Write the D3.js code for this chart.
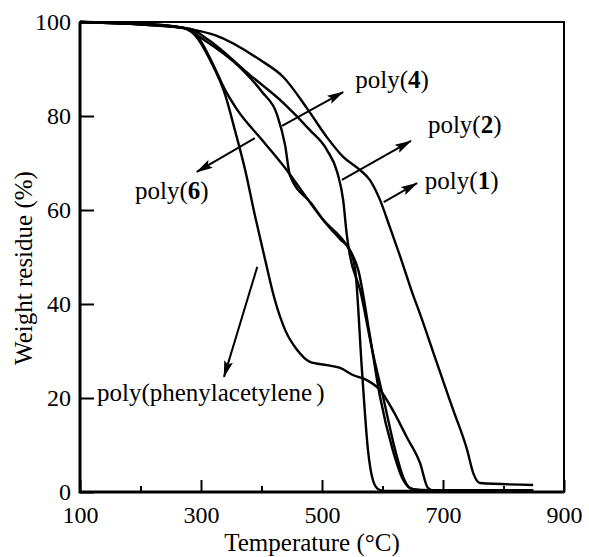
<!DOCTYPE html>
<html>
<head>
<meta charset="utf-8">
<script src="https://cdn.jsdelivr.net/npm/d3@7"></script>
<style>
  body { margin: 0; background: #fff; }
  svg { display: block; font-family: "Liberation Serif", "Times New Roman", serif; }
  .curve { fill: none; stroke: #000; stroke-width: 2.4px; stroke-linejoin: round; }
  .axis text { font-size: 24px; fill: #000; font-family: "Liberation Serif", serif; }
  .axis line { stroke: #000; stroke-width: 2px; }
  .axis .domain { display: none; }
  .note { font-size: 25px; fill: #000; }
</style>
</head>
<body>
<svg id="chart" width="589" height="557"></svg>
<script>
// TGA curves, temperature (°C) vs weight residue (%)
const poly1T = [100, 183, 282, 323, 398, 436, 477, 508, 535, 563, 579, 596, 612, 629, 650, 662, 690, 717, 740, 750, 761, 849];
const poly1W = [100, 99.8, 98.5, 97.2, 91.9, 88.3, 81.3, 75.5, 71.3, 68.5, 66.4, 62.1, 56.4, 50.2, 42.1, 37.9, 27.4, 17.4, 8.9, 4.0, 1.9, 1.5];

const poly2T = [100, 183, 282, 312, 381, 436, 480, 508, 525, 535, 541, 546, 563, 583, 601, 621, 636, 649, 679, 849];
const poly2W = [100, 99.6, 98.5, 96.2, 88.7, 82.8, 77.0, 72.8, 68.1, 62.1, 54.7, 50.4, 43.0, 30.2, 20.2, 8.9, 2.6, 0.6, 0.4, 0.4];

const poly4T = [100, 183, 274, 298, 364, 401, 426, 439, 447, 483, 505, 530, 546, 555, 566, 576, 584, 593, 604, 849];
const poly4W = [100, 99.6, 98.7, 96.8, 90.4, 85.1, 80.2, 73.8, 67.4, 61.3, 57.4, 53.8, 51.5, 47.2, 26.0, 8.9, 2.6, 0.6, 0.2, 0.2];

const poly6T = [100, 183, 274, 295, 318, 340, 360, 401, 444, 483, 502, 530, 543, 560, 579, 596, 617, 634, 645, 662, 849];
const poly6W = [100, 99.6, 98.7, 96.8, 91.5, 85.5, 81.3, 74.9, 68.1, 61.1, 57.9, 54.3, 52.1, 47.2, 33.4, 20.2, 8.9, 2.6, 0.9, 0.4, 0.4];

const ppaT = [100, 183, 265, 290, 315, 340, 356, 373, 389, 406, 422, 439, 459, 480, 508, 530, 551, 574, 596, 617, 640, 662, 675, 687, 849];
const ppaW = [100, 99.8, 98.9, 97.2, 91.9, 84.5, 77.0, 68.5, 58.9, 49.4, 40.9, 34.5, 30.2, 27.7, 27.0, 26.4, 24.9, 23.8, 21.7, 17.4, 11.7, 6.2, 0.9, 0.2, 0.2];

const xMajor = [100, 300, 500, 700, 900];
const xMinor = [200, 400, 600, 800];
const yTicks = [0, 20, 40, 60, 80, 100];

// labels: text, label anchor (T, W), arrow tail (T, W), arrow head (T, W)
const noteNames = ["poly(4)", "poly(2)", "poly(1)", "poly(6)", "poly(phenylacetylene)"];
const noteDigits = ["4", "2", "1", "6", ""];
const noteAt = [[555, 86], [675, 76.4], [670, 64.5], [191, 62.3], [128, 19.4]];
const arrowFrom = [[434, 77.9], [533, 66.4], [602, 61.7], [389, 75.3], [393, 47.9]];
const arrowTo = [[535, 85.1], [647, 74.7], [657, 65.7], [293, 68.1], [338, 24.5]];

const svg = d3.select("#chart");
const margin = {left: 80, right: 25, top: 22, bottom: 65};
const W = 589, H = 557;

const x = d3.scaleLinear().domain([100, 900]).range([margin.left, W - margin.right]);
const y = d3.scaleLinear().domain([0, 100]).range([H - margin.bottom, margin.top]);

// axes (ticks point inward)
svg.append("g")
    .attr("class", "axis")
    .attr("transform", `translate(0,${y(0)})`)
    .call(d3.axisBottom(x).tickValues(xMajor).tickSizeInner(-12).tickSizeOuter(0).tickPadding(14).tickFormat(d3.format("d")));

svg.append("g")
    .attr("class", "axis")
    .attr("transform", `translate(0,${y(0)})`)
    .call(d3.axisBottom(x).tickValues(xMinor).tickSizeInner(-6).tickSizeOuter(0).tickFormat(""));

svg.append("g")
    .attr("class", "axis")
    .attr("transform", `translate(${x(100)},0)`)
    .call(d3.axisLeft(y).tickValues(yTicks).tickSizeInner(-14).tickSizeOuter(0).tickPadding(9).tickFormat(d3.format("d")));

// frame
svg.append("rect")
    .attr("x", x(100))
    .attr("y", y(100))
    .attr("width", x(900) - x(100))
    .attr("height", y(0) - y(100))
    .style("fill", "none")
    .style("stroke", "#000")
    .style("stroke-width", "2px");
svg.append("path")
    .attr("d", `M${x(100)},${y(100)}V${y(0)}H${x(900)}`)
    .style("fill", "none")
    .style("stroke", "#000")
    .style("stroke-width", "3px");

// curves
const line = d3.line()
    .x((d) => x(d[0]))
    .y((d) => y(d[1]))
    .curve(d3.curveMonotoneX);

const series = [[poly1T, poly1W], [poly2T, poly2W], [poly4T, poly4W], [poly6T, poly6W], [ppaT, ppaW]];
svg.append("g")
    .selectAll("path")
    .data(series.map((s) => s[0].map((t, i) => [t, s[1][i]])))
    .enter()
    .append("path")
    .attr("class", "curve")
    .attr("d", line);

// arrow marker
svg.append("defs")
    .append("marker")
    .attr("id", "arrow")
    .attr("markerUnits", "userSpaceOnUse")
    .attr("viewBox", "0 -5 17 10")
    .attr("refX", 16)
    .attr("refY", 0)
    .attr("markerWidth", 17)
    .attr("markerHeight", 10)
    .attr("orient", "auto")
    .append("path")
    .attr("d", "M0,-4.5L17,0L0,4.5L3,0Z")
    .attr("fill", "#000");

svg.append("g")
    .selectAll("line")
    .data(arrowFrom)
    .enter()
    .append("line")
    .attr("x1", (d) => x(d[0]))
    .attr("y1", (d) => y(d[1]))
    .attr("x2", (d, i) => x(arrowTo[i][0]))
    .attr("y2", (d, i) => y(arrowTo[i][1]))
    .style("stroke", "#000")
    .style("stroke-width", "2px")
    .attr("marker-end", "url(#arrow)");

// labels, compound numbers in bold
const notes = svg.append("g")
    .selectAll("text")
    .data(noteNames)
    .enter()
    .append("text")
    .attr("class", "note")
    .attr("x", (d, i) => x(noteAt[i][0]))
    .attr("y", (d, i) => y(noteAt[i][1]));

notes.each(function (d, i) {
    const t = d3.select(this);
    if (noteDigits[i]) {
        t.append("tspan").text("poly(");
        t.append("tspan").style("font-weight", "bold").text(noteDigits[i]);
        t.append("tspan").text(")");
    } else {
        t.append("tspan").text("poly(phenylacetylene");
        t.append("tspan").attr("dx", 4).text(")");
    }
});

// axis titles
svg.append("text")
    .attr("x", 312)
    .attr("y", 551)
    .attr("text-anchor", "middle")
    .style("font-size", "25px")
    .text("Temperature (\u00b0C)");

svg.append("text")
    .attr("transform", `translate(32,${(y(0) + y(100)) / 2 + 11}) rotate(-90)`)
    .attr("text-anchor", "middle")
    .style("font-size", "25px")
    .text("Weight residue (%)");
</script>
</body>
</html>
